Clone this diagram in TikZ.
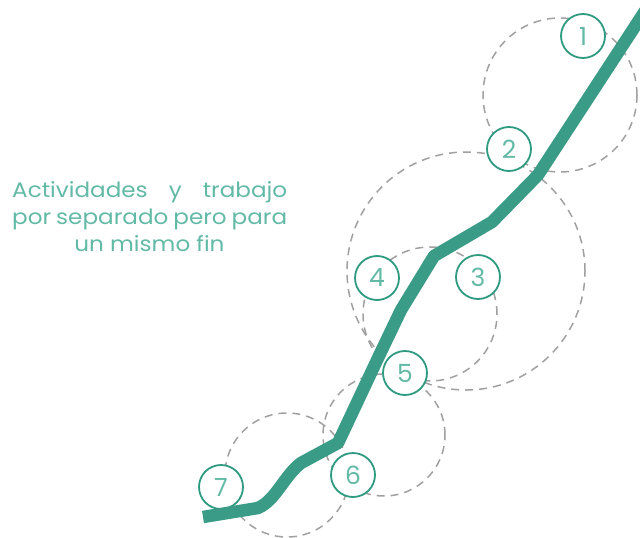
\documentclass[tikz,border=0pt]{standalone}
\usepackage{fontspec}
\setmainfont{Poppins}
\newfontfamily\widefont{Poppins}[FakeStretch=1.1]
\definecolor{pathteal}{RGB}{58,155,134}
\definecolor{ringteal}{RGB}{46,154,128}
\definecolor{txtteal}{RGB}{98,186,166}
\definecolor{dashgray}{RGB}{160,160,160}
\tikzset{
  dashcirc/.style={draw=dashgray, line width=1.5pt, dash pattern=on 8pt off 6pt},
  numnode/.style={circle, draw=ringteal, fill=white, line width=1.8pt, minimum size=44pt, inner sep=0pt, text=txtteal, font=\fontsize{25}{25}\selectfont},
  txtnode/.style={text=txtteal, font=\widefont\fontsize{21}{21}\selectfont, inner sep=0pt},
  route/.style={draw=pathteal, line width=12.5pt, line join=round}
}
\begin{document}
\begin{tikzpicture}[x=1pt, y=-1pt]
\useasboundingbox (0,0) rectangle (640,538);
\clip (0,0) rectangle (640,538);
% dashed circles
\draw[dashcirc] (560,95) circle[radius=77pt];
\draw[dashcirc] (466,271) circle[radius=119pt];
\draw[dashcirc] (430,314) circle[radius=67pt];
\draw[dashcirc] (384,435) circle[radius=61pt];
\draw[dashcirc] (287,475) circle[radius=62pt];
% numbered nodes
\node[numnode] (n1) at (583,36) {1};
\node[numnode] (n2) at (509,149) {2};
\node[numnode] (n3) at (478,277) {3};
\node[numnode] (n4) at (377,278) {4};
\node[numnode] (n5) at (405,373) {5};
\node[numnode] (n6) at (353,475) {6};
\node[numnode] (n7) at (221,487) {7};
% route
\draw[route] (203,517) -- (258,508) .. controls (276,500) and (284,476) .. (301,463) -- (338,443) -- (378,358) -- (401,310) -- (434,256) -- (492,222) -- (538,175) -- (647,8);
% text
\node[txtnode, anchor=base west] (t1) at (12,197) {\makebox[275pt][s]{Actividades y trabajo}};
\node[txtnode, anchor=base west] (t2) at (12,224) {\makebox[275pt][s]{por separado pero para}};
\node[txtnode, anchor=base] (t3) at (149.5,251) {un mismo fin};
\end{tikzpicture}
\end{document}
